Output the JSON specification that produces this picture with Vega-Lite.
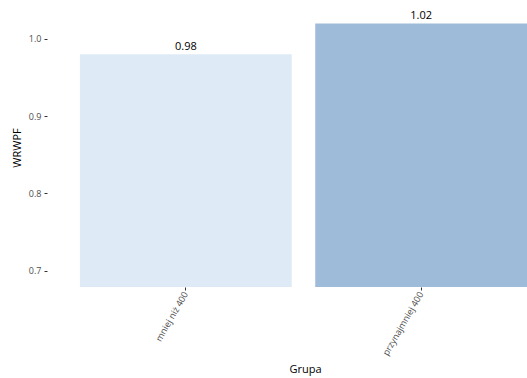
{
  "$schema": "https://vega.github.io/schema/vega-lite/v6.json",
  "autosize": {"type": "none"},
  "padding": {"left": 47, "top": 8, "right": 0, "bottom": 91},
  "width": 480,
  "height": 279,
  "background": "white",
  "config": {"view": {"stroke": null}, "font": "Open Sans"},
  "data": {"values": [
    {"Grupa": "mniej niż 400", "WRWPF": 0.98, "label": "0.98"},
    {"Grupa": "przynajmniej 400", "WRWPF": 1.02, "label": "1.02"}
  ]},
  "encoding": {
    "x": {"field": "Grupa", "type": "nominal", "sort": null,
      "scale": {"paddingInner": 0.1, "paddingOuter": 0.07, "align": 1},
      "axis": {"title": "Grupa", "labelAngle": -60, "labelFontSize": 9, "labelColor": "#4d4d4d",
        "domain": false, "tickColor": "#333333", "tickSize": 3, "labelPadding": 2,
        "titleFontSize": 11, "titleFontWeight": "normal", "titleColor": "#000000", "titleX": 258, "titleY": 76}},
    "y": {"field": "WRWPF", "type": "quantitative",
      "scale": {"domain": [0.679, 1.04], "nice": false, "zero": false},
      "axis": {"title": "WRWPF", "values": [0.7, 0.8, 0.9, 1.0], "format": ".1f", "grid": false, "domain": false,
        "labelFontSize": 9, "labelColor": "#4d4d4d", "tickColor": "#333333", "tickSize": 3, "labelPadding": 3,
        "titleFontSize": 11, "titleFontWeight": "normal", "titleColor": "#000000", "titlePadding": 6}}
  },
  "layer": [
    {"mark": {"type": "bar", "clip": true},
     "encoding": {"color": {"field": "Grupa", "type": "nominal", "legend": null,
       "scale": {"range": ["#deebf7", "#9ebcda"]}}}},
    {"mark": {"type": "text", "baseline": "bottom", "dy": -2, "fontSize": 11, "color": "#000000"},
     "encoding": {"text": {"field": "label"}}}
  ]
}
